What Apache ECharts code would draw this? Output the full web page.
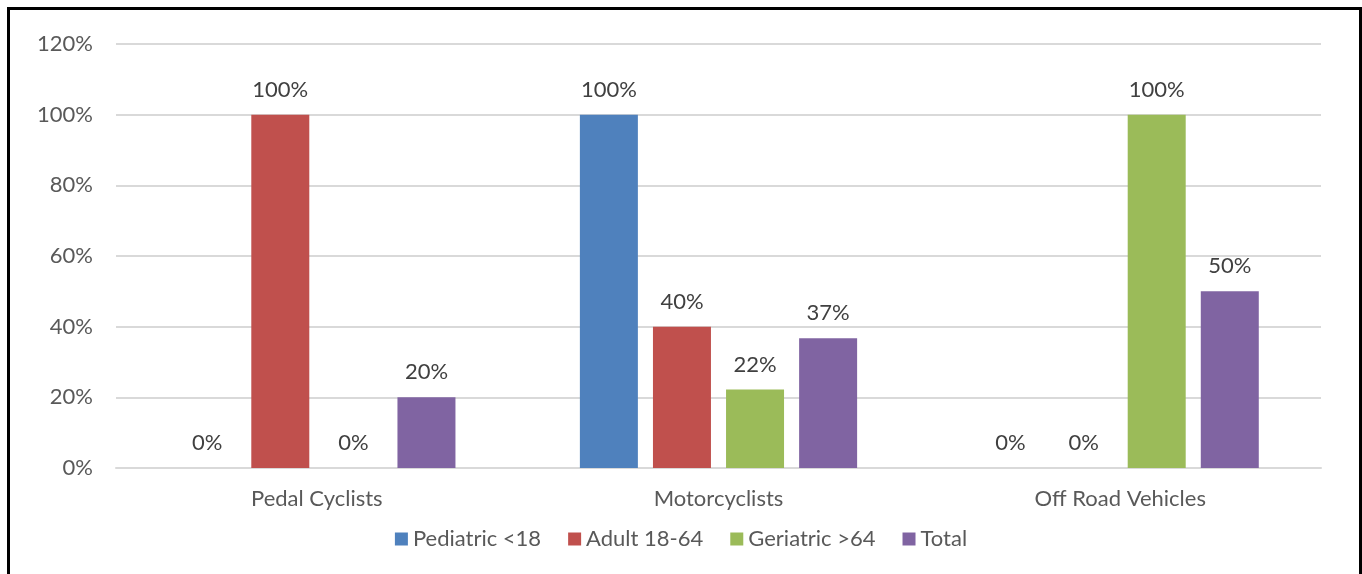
<!DOCTYPE html>
<html>
<head>
<meta charset="utf-8">
<script src="https://cdn.jsdelivr.net/npm/echarts@6/dist/echarts.min.js"></script>
<style>
	html, body {
		margin: 0;
		padding: 0;
		background: #fff;
	}
	#chart {
		width: 1362px;
		height: 574px;
	}
	.frame {
		position: absolute;
		left: 7px;
		top: 7px;
		width: 1349px;
		height: 600px;
		border: 3px solid #000;
		border-bottom: none;
		pointer-events: none;
	}
</style>
</head>
<body>
<div id="chart"></div>
<div class="frame"></div>
<script>
	// data (fractions, shown as %)
	var categories = ['Pedal Cyclists', 'Motorcyclists', 'Off Road Vehicles'];
	var pediatric = [0, 1.0, 0];
	var adult = [1.0, 0.40, 0];
	var geriatric = [0, 0.222, 1.0];
	var total = [0.20, 0.367, 0.50];
	var yTicks = [0, 0.2, 0.4, 0.6, 0.8, 1.0, 1.2];

	var fontFam = 'Lato, "Open Sans", sans-serif';

	function pct(v) {
		return Math.round(v * 100) + '%';
	}

	function makeSeries(name, data, color) {
		return {
			name: name,
			type: 'bar',
			data: data,
			barWidth: 58,
			barGap: '26%',
			itemStyle: {
				color: color
			},
			label: {
				show: true,
				position: 'top',
				distance: 14,
				color: '#404040',
				fontSize: 22,
				fontFamily: fontFam,
				formatter: function (p) {
					return pct(p.value);
				}
			}
		};
	}

	var chart = echarts.init(document.getElementById('chart'), null, {
		renderer: 'canvas'
	});

	var options = {
		animation: false,
		grid: {
			left: 116,
			right: 41,
			top: 44,
			bottom: 106
		},
		legend: {
			top: 523,
			left: 'center',
			itemWidth: 13,
			itemHeight: 13,
			itemGap: 27,
			icon: 'rect',
			textStyle: {
				color: '#595959',
				fontSize: 22,
				fontFamily: fontFam
			}
		},
		xAxis: {
			type: 'category',
			data: categories,
			axisTick: {
				show: false
			},
			axisLine: {
				lineStyle: {
					color: '#d9d9d9',
					width: 2
				}
			},
			axisLabel: {
				color: '#595959',
				fontSize: 22,
				fontFamily: fontFam,
				margin: 20
			}
		},
		yAxis: {
			type: 'value',
			min: 0,
			max: yTicks[yTicks.length - 1],
			interval: 0.2,
			axisLine: {
				show: false
			},
			axisTick: {
				show: false
			},
			splitLine: {
				lineStyle: {
					color: '#d9d9d9',
					width: 2
				}
			},
			axisLabel: {
				color: '#595959',
				fontSize: 22,
				fontFamily: fontFam,
				margin: 23,
				formatter: function (v) {
					return pct(v);
				}
			}
		},
		series: [
			makeSeries('Pediatric <18', pediatric, '#4F81BD'),
			makeSeries('Adult 18-64', adult, '#C0504D'),
			makeSeries('Geriatric >64', geriatric, '#9BBB59'),
			makeSeries('Total', total, '#8064A2')
		]
	};

	chart.setOption(options);
</script>
</body>
</html>
